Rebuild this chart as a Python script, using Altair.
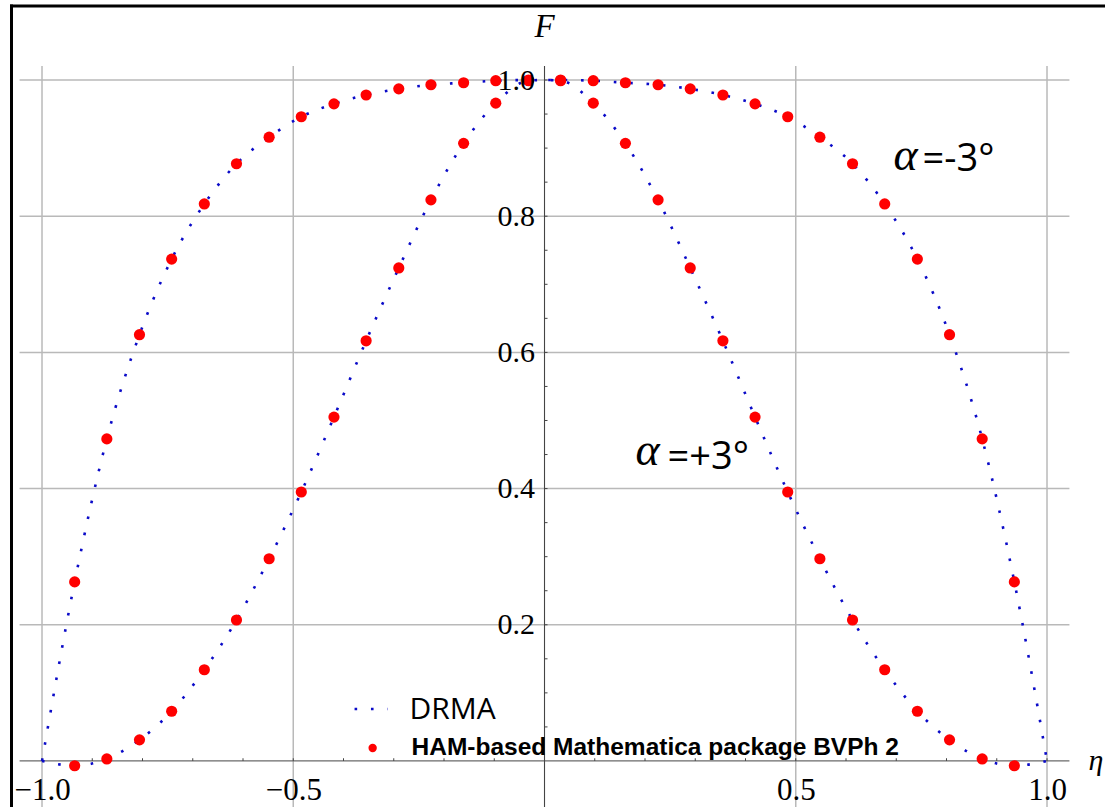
import altair as alt
import pandas as pd

# ---------------- data ----------------
eta_points = [-0.935, -0.871, -0.806, -0.742, -0.677, -0.613, -0.548, -0.484,
              -0.419, -0.355, -0.290, -0.226, -0.161, -0.097, -0.032,
              0.032, 0.097, 0.161, 0.226, 0.290, 0.355, 0.419, 0.484,
              0.548, 0.613, 0.677, 0.742, 0.806, 0.871, 0.935]
ham_minus3 = [0.263, 0.473, 0.626, 0.737, 0.818, 0.877, 0.916, 0.946,
              0.965, 0.978, 0.987, 0.993, 0.996, 0.999, 1.000,
              1.000, 0.999, 0.996, 0.993, 0.987, 0.978, 0.965, 0.946,
              0.916, 0.877, 0.818, 0.737, 0.626, 0.473, 0.263]
ham_plus3 = [-0.007, 0.003, 0.031, 0.073, 0.134, 0.207, 0.297, 0.395,
             0.505, 0.617, 0.724, 0.824, 0.907, 0.966, 0.999,
             0.999, 0.966, 0.907, 0.824, 0.724, 0.617, 0.505, 0.395,
             0.297, 0.207, 0.134, 0.073, 0.031, 0.003, -0.007]

drma_eta = [-1.0, -0.935, -0.871, -0.806, -0.742, -0.677, -0.613, -0.548, -0.484,
            -0.419, -0.355, -0.290, -0.226, -0.161, -0.097, -0.032, 0.0,
            0.032, 0.097, 0.161, 0.226, 0.290, 0.355, 0.419, 0.484,
            0.548, 0.613, 0.677, 0.742, 0.806, 0.871, 0.935, 1.0]
drma_minus3 = [0.0, 0.263, 0.473, 0.626, 0.737, 0.818, 0.877, 0.916, 0.946,
               0.965, 0.978, 0.987, 0.993, 0.996, 0.999, 1.000, 1.000,
               1.000, 0.999, 0.996, 0.993, 0.987, 0.978, 0.965, 0.946,
               0.916, 0.877, 0.818, 0.737, 0.626, 0.473, 0.263, 0.0]
drma_plus3 = [0.0, -0.007, 0.003, 0.031, 0.073, 0.134, 0.207, 0.297, 0.395,
              0.505, 0.617, 0.724, 0.824, 0.907, 0.966, 0.999, 1.000,
              0.999, 0.966, 0.907, 0.824, 0.724, 0.617, 0.505, 0.395,
              0.297, 0.207, 0.134, 0.073, 0.031, 0.003, -0.007, 0.0]

x_labels = [-1.0, -0.5, 0.5, 1.0]
y_labels = [0.2, 0.4, 0.6, 0.8, 1.0]
x_grid = [-1.0, -0.5, 0.5, 1.0]
y_grid = [0.2, 0.4, 0.6, 0.8, 1.0]
x_minor = [-1.0, -0.9, -0.8, -0.7, -0.6, -0.5, -0.4, -0.3, -0.2, -0.1,
           0.1, 0.2, 0.3, 0.4, 0.5, 0.6, 0.7, 0.8, 0.9, 1.0]
y_minor = [0.05, 0.1, 0.15, 0.2, 0.25, 0.3, 0.35, 0.4, 0.45, 0.5,
           0.55, 0.6, 0.65, 0.7, 0.75, 0.8, 0.85, 0.9, 0.95, 1.0]

# ---------------- layout ----------------
W, H = 1105, 807
X_DOMAIN = [-1.0836, 1.1154]
Y_DOMAIN = [-0.0676, 1.1175]
X_EXT = [-1.0446, 1.0446]   # extent of axis / horizontal grid
Y_TOP = 1.0206              # top of vertical grid / y axis

xs = alt.Scale(domain=X_DOMAIN, nice=False, zero=False)
ys = alt.Scale(domain=Y_DOMAIN, nice=False, zero=False)

GRID = "#b9b9b9"
AXIS = "#6a6a6a"
BLUE = "#0a0ac8"
RED = "#ff0000"
SERIF = "Liberation Serif"

x_axis = alt.Axis(values=x_labels, format=".1f", offset=-46, domain=False, ticks=False,
                  grid=False, labelFont=SERIF, labelFontSize=31, labelColor="black",
                  labelPadding=14, labelFlush=False, labelOverlap=False, title=None, zindex=1)
y_axis = alt.Axis(values=y_labels, format=".1f", offset=-545.5, domain=False, ticks=False,
                  grid=False, labelFont=SERIF, labelFontSize=30, labelColor="black",
                  labelPadding=11, labelFlush=False, labelOverlap=False, title=None, zindex=1)


def X(field):
    return alt.X(field, type="quantitative", scale=xs, axis=x_axis)


def Y(field):
    return alt.Y(field, type="quantitative", scale=ys, axis=y_axis)


# grid
vgrid = alt.Chart(pd.DataFrame({"v": x_grid, "y1": [Y_TOP] * len(x_grid),
                                "y2": [Y_DOMAIN[0]] * len(x_grid)})).mark_rule(
    color=GRID, strokeWidth=1.5).encode(x=X("v"), y=Y("y1"), y2="y2")
hgrid = alt.Chart(pd.DataFrame({"v": y_grid, "x1": [X_EXT[0]] * len(y_grid),
                                "x2": [X_EXT[1]] * len(y_grid)})).mark_rule(
    color=GRID, strokeWidth=1.5).encode(y=Y("v"), x=X("x1"), x2="x2")

# axis lines through origin
xaxis_line = alt.Chart(pd.DataFrame({"x1": [X_EXT[0]], "x2": [X_EXT[1]], "y": [0.0]})).mark_rule(
    color=AXIS, strokeWidth=1.3).encode(x=X("x1"), x2="x2", y=Y("y"))
yaxis_line = alt.Chart(pd.DataFrame({"y1": [Y_DOMAIN[0]], "y2": [Y_TOP], "x": [0.0]})).mark_rule(
    color="#444444", strokeWidth=1.1).encode(y=Y("y1"), y2="y2", x=X("x"))

# minor ticks
xt = alt.Chart(pd.DataFrame({"v": x_minor, "a": [0.0] * len(x_minor),
                             "b": [0.004] * len(x_minor)})).mark_rule(
    color="#444444", strokeWidth=1).encode(x=X("v"), y=Y("a"), y2="b")
yt = alt.Chart(pd.DataFrame({"v": y_minor, "a": [0.0] * len(y_minor),
                             "b": [0.006] * len(y_minor)})).mark_rule(
    color="#444444", strokeWidth=1).encode(y=Y("v"), x=X("a"), x2="b")

# DRMA dotted lines
line_df = pd.DataFrame({
    "eta": drma_eta * 2,
    "F": drma_minus3 + drma_plus3,
    "series": ["-3"] * len(drma_eta) + ["+3"] * len(drma_eta),
})
lines = alt.Chart(line_df).mark_line(
    color=BLUE, strokeWidth=2.6, strokeDash=[2.6, 13.8], interpolate="monotone"
).encode(x=X("eta"), y=Y("F"), detail="series:N")

# HAM points
pts_df = pd.DataFrame({
    "eta": eta_points * 2,
    "F": ham_minus3 + ham_plus3,
    "series": ["-3"] * len(eta_points) + ["+3"] * len(eta_points),
})
points = alt.Chart(pts_df).mark_circle(size=125, color=RED, opacity=1).encode(
    x=X("eta"), y=Y("F"), detail="series:N")

# axis titles
ftitle = alt.Chart(pd.DataFrame({"x": [0.0], "y": [1.0631], "t": ["F"]})).mark_text(
    font=SERIF, fontSize=33, fontStyle="italic", align="center", baseline="alphabetic",
    color="black").encode(x=X("x"), y=Y("y"), text="t:N")
etatitle = alt.Chart(pd.DataFrame({"x": [1.0826], "y": [-0.0132], "t": ["η"]})).mark_text(
    font=SERIF, fontSize=30, fontStyle="italic", align="left", baseline="alphabetic",
    color="black").encode(x=X("x"), y=Y("y"), text="t:N")

# curve annotations
alpha_txt = alt.Chart(pd.DataFrame({"x": [0.6945, 0.1811], "y": [0.8678, 0.4347],
                                    "t": ["α", "α"]})).mark_text(
    font=SERIF, fontSize=46, fontStyle="italic", align="left", baseline="alphabetic",
    color="black").encode(x=X("x"), y=Y("y"), text="t:N")
ang_txt = alt.Chart(pd.DataFrame({"x": [0.7522, 0.2448], "y": [0.8664, 0.4288],
                                  "t": ["=-3°", "=+3°"]})).mark_text(
    font="Open Sans", fontSize=38, align="left", baseline="alphabetic",
    color="black").encode(x=X("x"), y=Y("y"), text="t:N")

# legend
leg_line = alt.Chart(pd.DataFrame({"x1": [-0.378], "x2": [-0.312], "y": [0.0764]})).mark_rule(
    color=BLUE, strokeWidth=2.6, strokeDash=[2.6, 13.8]).encode(x=X("x1"), x2="x2", y=Y("y"))
leg_dot = alt.Chart(pd.DataFrame({"x": [-0.342], "y": [0.0191]})).mark_circle(
    size=70, color=RED, opacity=1).encode(x=X("x"), y=Y("y"))
leg_t1 = alt.Chart(pd.DataFrame({"x": [-0.2687], "y": [0.0617], "t": ["DRMA"]})).mark_text(
    font="Open Sans", fontSize=30, align="left", baseline="alphabetic",
    color="black").encode(x=X("x"), y=Y("y"), text="t:N")
leg_t2 = alt.Chart(pd.DataFrame({"x": [-0.2647], "y": [0.0088],
                                 "t": ["HAM-based Mathematica package BVPh 2"]})).mark_text(
    font="Liberation Sans", fontSize=24.5, fontWeight="bold", align="left",
    baseline="alphabetic", color="black").encode(x=X("x"), y=Y("y"), text="t:N")

# outer frame (left and top edges visible)
dummy = pd.DataFrame({"a": [0]})
frame_l = alt.Chart(dummy).mark_rule(color="black", strokeWidth=3).encode(
    x=alt.value(11.5), y=alt.value(4.5), y2=alt.value(H))
frame_t = alt.Chart(dummy).mark_rule(color="black", strokeWidth=3).encode(
    y=alt.value(6), x=alt.value(10), x2=alt.value(W))

chart = alt.layer(
    vgrid, hgrid, xaxis_line, yaxis_line, xt, yt,
    lines, points,
    ftitle, etatitle, alpha_txt, ang_txt,
    leg_line, leg_dot, leg_t1, leg_t2,
    frame_l, frame_t,
).properties(
    width=W, height=H, padding=0, background="white",
    autosize=alt.AutoSizeParams(type="none"),
).configure_view(stroke=None)

chart.save("out.html", embed_options={"renderer": "svg", "actions": False})
